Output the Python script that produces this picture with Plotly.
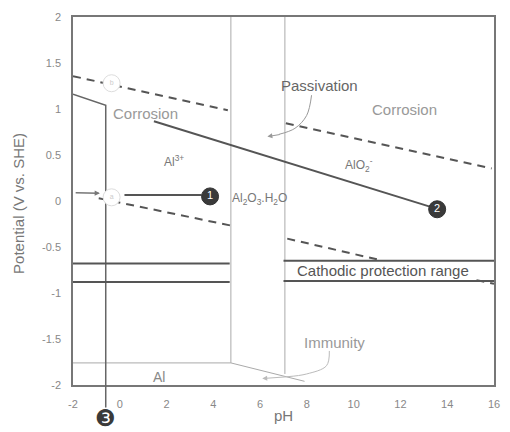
import plotly.graph_objects as go

# ---- data (pH, potential V vs SHE) ----
ph_ticks = [-2, 0, 2, 4, 6, 8, 10, 12, 14, 16]
ph_tick_text = ["-2", "0", "2", "4", "6", "8", "10", "12", "14", "16"]
e_ticks = [-2, -1.5, -1, -0.5, 0, 0.5, 1, 1.5, 2]
e_tick_text = ["-2", "-1.5", "-1", "-0.5", "0", "0.5", "1", "1.5", "2"]

# O2 evolution line (dashed, broken by the passivation strip)
o2_ph = [-2, 4.62, None, 7.1, 15.9]
o2_e = [1.357, 0.986, None, 0.845, 0.354]

# H2 evolution line (dashed)
h2_ph = [-0.9, 4.75, None, 7.16, 11.1, None, 15.25, 16]
h2_e = [0.03, -0.267, None, -0.409, -0.64, None, -0.86, -0.90]

# Al3+ / corrosion boundary at low pH and vertical line to marker 3
al3_ph = [-2, -0.6, -0.6]
al3_e = [1.16, 1.04, -2]

# main solid boundary (Al3+ / AlO2-)
main_ph = [1.46, 13.5]
main_e = [0.866, -0.08]

# line from circle a to marker 1
a1_ph = [0.2, 3.5]
a1_e = [0.065, 0.065]

# cathodic protection range lines
cp_ph = [-2, 4.7, None, 7.0, 16]
cp_up_e = [-0.68, -0.68, None, -0.65, -0.65]
cp_lo_e = [-0.88, -0.88, None, -0.87, -0.87]

# passivation strip outline
strip_l_ph = [4.75, 4.75]
strip_l_e = [2, -1.76]
strip_r_ph = [7.06, 7.06]
strip_r_e = [2, -1.88]
base_ph = [-2, 4.75, 7.9]
base_e = [-1.76, -1.76, -1.96]

# curved pointer lines
pass_ph = [8.20, 7.99, 7.49, 6.81]
pass_e = [1.15, 0.93, 0.79, 0.725]
imm_ph = [8.96, 8.84, 7.99, 7.15]
imm_e = [-1.63, -1.79, -1.88, -1.91]

# markers
open_ph = [-0.35, -0.35]
open_e = [1.28, 0.04]
open_txt = ["b", "a"]
num_ph = [3.86, 13.57]
num_e = [0.05, -0.09]
num_txt = ["1", "2"]
m3_ph = -0.62
m3_e = -2.0

FONT = "Liberation Sans, Arial, sans-serif"

fig = go.Figure()

def line(x, y, color="#555", width=2, dash=None, shape="linear"):
    fig.add_trace(go.Scatter(x=x, y=y, mode="lines", hoverinfo="skip", showlegend=False,
                             line=dict(color=color, width=width, dash=dash, shape=shape)))

# strip outline (thin, light)
line(strip_l_ph, strip_l_e, "#aaa", 1)
line(strip_r_ph, strip_r_e, "#aaa", 1)
line(base_ph, base_e, "#aaa", 1)

line(o2_ph, o2_e, "#555", 2, "8px,6px")
line(h2_ph, h2_e, "#555", 2, "8px,6px")
line(al3_ph, al3_e, "#666", 1.5)
line(main_ph, main_e, "#555", 2)
line(a1_ph, a1_e, "#555", 2)
line(cp_ph, cp_up_e, "#555", 2)
line(cp_ph, cp_lo_e, "#555", 2)
line(pass_ph, pass_e, "#999", 1, shape="spline")
line(imm_ph, imm_e, "#bbb", 1, shape="spline")

fig.add_trace(go.Scatter(x=open_ph, y=open_e, mode="markers+text", text=open_txt,
                         textposition="middle center", hoverinfo="skip", showlegend=False,
                         textfont=dict(size=7, color="#ccc", family=FONT),
                         marker=dict(size=17, color="white", line=dict(color="#ddd", width=1))))
fig.add_trace(go.Scatter(x=num_ph, y=num_e, mode="markers+text", text=num_txt,
                         textposition="middle center", hoverinfo="skip", showlegend=False,
                         textfont=dict(size=11, color="white", family=FONT),
                         marker=dict(size=17, color="#3a3a3a", line=dict(color="#333", width=1))))

ann = []
def txt(x, y, t, size=15, color="#999"):
    ann.append(dict(x=x, y=y, text=t, showarrow=False, xref="x", yref="y",
                    font=dict(size=size, color=color, family=FONT)))

txt(1.08, 0.95, "Corrosion", 15, "#999")
txt(2.30, 0.44, "Al<sup>3+</sup>", 12, "#777")
txt(5.97, 0.02, "Al<sub>2</sub>O<sub>3</sub>.H<sub>2</sub>O", 12, "#777")
txt(10.23, 0.39, "AlO<sub>2</sub><sup>-</sup>", 12, "#777")
txt(8.54, 1.26, "Passivation", 15, "#666")
txt(12.17, 0.99, "Corrosion", 15, "#999")
txt(11.24, -0.75, "Cathodic protection range", 15, "#555")
txt(9.17, -1.54, "Immunity", 15, "#999")
txt(1.67, -1.91, "Al", 14, "#888")

# arrowheads
ann.append(dict(x=6.31, y=0.70, ax=6.9, ay=0.725, xref="x", yref="y", axref="x", ayref="y",
                text="", showarrow=True, arrowhead=2, arrowsize=1, arrowwidth=1, arrowcolor="#999"))
ann.append(dict(x=6.09, y=-1.93, ax=7.2, ay=-1.91, xref="x", yref="y", axref="x", ayref="y",
                text="", showarrow=True, arrowhead=2, arrowsize=1, arrowwidth=1, arrowcolor="#bbb"))
# small pointer toward circle a
ann.append(dict(x=-0.85, y=0.085, ax=-1.95, ay=0.09, xref="x", yref="y", axref="x", ayref="y",
                text="", showarrow=True, arrowhead=2, arrowsize=0.7, arrowwidth=1.5, arrowcolor="#777"))
# vertical line 3 extension below the axis
ann.append(dict(x=-0.6, y=-2, ax=0, ay=24, xref="x", yref="y", text="",
                showarrow=True, arrowhead=0, arrowwidth=1.5, arrowcolor="#666"))
# marker 3 below the axis (circled digit)
ann.append(dict(x=m3_ph, y=m3_e, yshift=-33, xref="x", yref="y", text="\u2778", showarrow=False,
                font=dict(size=23, color="#3a3a3a", family="DejaVu Sans")))

# axis titles
ann.append(dict(x=0.5, y=-0.112, xref="paper", yref="paper", text="pH", showarrow=False,
                xanchor="center", font=dict(size=15, color="#777", family=FONT)))
ann.append(dict(x=-0.129, y=0.494, xref="paper", yref="paper", text="Potential (V vs. SHE)",
                xanchor="center", yanchor="middle",
                textangle=-90, showarrow=False, font=dict(size=15, color="#777", family=FONT)))

fig.update_layout(
    width=510, height=432,
    margin=dict(l=73, r=10, t=17, b=47),
    paper_bgcolor="white", plot_bgcolor="white",
    annotations=ann,
    font=dict(family=FONT),
    xaxis=dict(range=[-2, 16], tickvals=ph_ticks, ticktext=ph_tick_text, showgrid=False,
               zeroline=False, showline=True, mirror=True, linecolor="#777", linewidth=1.5,
               ticks="", tickfont=dict(size=11, color="#888", family=FONT), ticklabelstandoff=8),
    yaxis=dict(range=[-2, 2], tickvals=e_ticks, ticktext=e_tick_text, showgrid=False,
               zeroline=False, showline=True, mirror=True, linecolor="#777", linewidth=1.5,
               ticks="", tickfont=dict(size=11, color="#888", family=FONT), ticklabelstandoff=8),
)

fig.write_html("out.html", config={"displayModeBar": False},
               post_script="document.body.style.margin='0';document.body.style.overflow='hidden';")
